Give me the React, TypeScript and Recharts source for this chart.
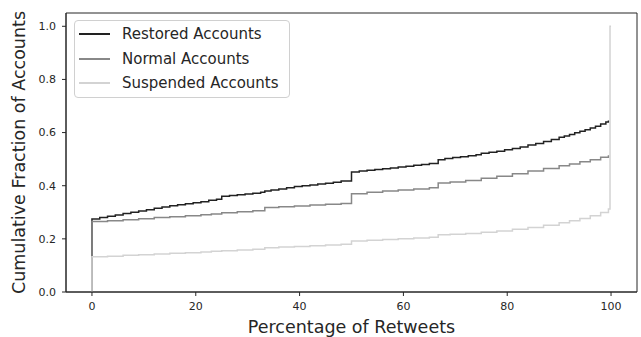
import React from 'react';
import { LineChart, Line, XAxis, YAxis, Legend, ReferenceArea } from 'recharts';

const FONT = '"DejaVu Sans", sans-serif';

const restoredX = [0, 0, 1.5, 3, 4.5, 6, 7.5, 9, 10.5, 12, 13.5, 15, 16.5, 18, 19.5, 21, 22.5, 24, 25, 26.5, 28, 29.5, 31, 32.5, 33.3, 34.5, 36, 37.5, 39, 40.5, 42, 43.5, 45, 46.5, 48, 50, 51.5, 53, 54.5, 56, 57.5, 59, 60.5, 62, 63.5, 65, 66.7, 68, 69.5, 71, 72.5, 74, 75, 76.5, 78, 79.5, 81, 82.5, 84, 85.5, 87, 88.5, 90, 91, 92, 93, 94, 95, 96, 97, 98, 99, 99.5];
const restoredValues = [0, 0.275, 0.280, 0.285, 0.290, 0.295, 0.300, 0.305, 0.310, 0.315, 0.320, 0.325, 0.328, 0.332, 0.336, 0.340, 0.345, 0.349, 0.360, 0.363, 0.366, 0.369, 0.372, 0.375, 0.380, 0.384, 0.388, 0.392, 0.397, 0.400, 0.403, 0.406, 0.409, 0.413, 0.418, 0.452, 0.455, 0.458, 0.461, 0.464, 0.467, 0.470, 0.473, 0.477, 0.480, 0.484, 0.498, 0.502, 0.506, 0.509, 0.513, 0.517, 0.522, 0.526, 0.530, 0.535, 0.540, 0.546, 0.553, 0.559, 0.566, 0.574, 0.582, 0.587, 0.593, 0.599, 0.605, 0.611, 0.617, 0.624, 0.632, 0.640, 0.645];

const normalX = [0, 0, 3, 6, 9, 12, 15, 18, 21, 23, 25, 28, 31, 33.3, 36, 39, 42, 45, 48, 50, 53, 56, 59, 62, 65, 66.7, 69, 72, 75, 78, 81, 84, 87, 90, 92, 94, 96, 98, 99.5];
const normalValues = [0, 0.265, 0.268, 0.272, 0.276, 0.280, 0.283, 0.287, 0.291, 0.294, 0.298, 0.302, 0.306, 0.318, 0.321, 0.324, 0.327, 0.330, 0.333, 0.370, 0.375, 0.380, 0.384, 0.388, 0.392, 0.410, 0.414, 0.420, 0.428, 0.436, 0.445, 0.455, 0.465, 0.475, 0.482, 0.490, 0.498, 0.507, 0.515];

const suspendedX = [0, 0, 3, 6, 9, 12, 15, 18, 21, 23, 25, 28, 31, 33.3, 36, 39, 42, 45, 48, 50, 53, 56, 59, 62, 65, 66.7, 69, 72, 75, 78, 81, 84, 87, 90, 92, 94, 96, 98, 99.5, 99.8, 100];
const suspendedValues = [0, 0.133, 0.135, 0.138, 0.140, 0.143, 0.146, 0.148, 0.151, 0.153, 0.155, 0.158, 0.161, 0.167, 0.169, 0.171, 0.174, 0.177, 0.180, 0.192, 0.195, 0.198, 0.200, 0.203, 0.206, 0.215, 0.217, 0.220, 0.225, 0.230, 0.236, 0.243, 0.251, 0.261, 0.268, 0.277, 0.287, 0.299, 0.312, 1.0, 1.0];

const xTicks = [0, 20, 40, 60, 80, 100];
const yTicks = [0, 0.2, 0.4, 0.6, 0.8, 1.0];

const seriesNames = ['Restored Accounts', 'Normal Accounts', 'Suspended Accounts'];
const seriesColors = ['#222222', '#888888', '#d3d3d3'];
const seriesXs = [restoredX, normalX, suspendedX];
const seriesValues = [restoredValues, normalValues, suspendedValues];

const seriesData = seriesValues.map((vals, s) => seriesXs[s].map((x, i) => ({ x, y: vals[i] })));

const LegendBox = () => (
  <div
    style={{
      boxSizing: 'border-box',
      width: 216,
      height: 78,
      border: '1px solid #d0d0d0',
      borderRadius: 4,
      background: 'rgba(255,255,255,0.8)',
      padding: '1px 0 0 4px',
      fontFamily: FONT,
      fontSize: 15,
      color: '#262626',
    }}
  >
    {seriesNames.map((name, i) => (
      <div key={name} style={{ display: 'flex', alignItems: 'center', height: 24.5, whiteSpace: 'nowrap' }}>
        <svg width={31} height={4} style={{ display: 'block' }}>
          <line x1={0} y1={2} x2={31} y2={2} stroke={seriesColors[i]} strokeWidth={2} />
        </svg>
        <span style={{ marginLeft: 12, lineHeight: '24.5px' }}>{name}</span>
      </div>
    ))}
  </div>
);

const YLabel = (props: any) => {
  const vb = props.viewBox || {};
  const cy = (vb.y ?? 13) + (vb.height ?? 279) / 2;
  const x = 25;
  return (
    <text
      x={x}
      y={cy}
      transform={`rotate(-90, ${x}, ${cy})`}
      textAnchor="middle"
      fontFamily={FONT}
      fontSize={17.5}
      fill="#262626"
    >
      Cumulative Fraction of Accounts
    </text>
  );
};

const XLabel = (props: any) => {
  const vb = props.viewBox || {};
  const cx = (vb.x ?? 66) + (vb.width ?? 571) / 2;
  return (
    <text x={cx} y={333} textAnchor="middle" fontFamily={FONT} fontSize={17.5} fill="#262626">
      Percentage of Retweets
    </text>
  );
};

export default function App() {
  return (
    <div style={{ position: 'absolute', left: 0, top: 0, width: 641, height: 337, background: '#fff' }}>
      <LineChart width={641} height={337} margin={{ top: 13, right: 4, left: 0, bottom: 0 }}>
        <XAxis
          dataKey="x"
          type="number"
          domain={[-5, 105]}
          ticks={xTicks}
          allowDataOverflow
          height={45}
          tickSize={4}
          tickMargin={6}
          tick={{ fontFamily: FONT, fontSize: 11, fill: '#262626' }}
          tickLine={{ stroke: '#262626' }}
          axisLine={{ stroke: '#262626' }}
          label={<XLabel />}
        />
        <YAxis
          type="number"
          domain={[0, 1.05]}
          ticks={yTicks}
          allowDataOverflow
          width={66}
          tickSize={4}
          tickMargin={6}
          tickFormatter={(v: number) => v.toFixed(1)}
          tick={{ fontFamily: FONT, fontSize: 11, fill: '#262626' }}
          tickLine={{ stroke: '#262626' }}
          axisLine={{ stroke: '#262626' }}
          label={<YLabel />}
        />
        <ReferenceArea x1={-5} x2={105} y1={0} y2={1.05} fill="none" stroke="#262626" strokeWidth={1} ifOverflow="extendDomain" />
        {seriesNames.map((name, i) => (
          <Line
            key={name}
            name={name}
            data={seriesData[i]}
            dataKey="y"
            type="stepAfter"
            stroke={seriesColors[i]}
            strokeWidth={1.5}
            dot={false}
            activeDot={false}
            isAnimationActive={false}
          />
        ))}
        <Legend
          layout="vertical"
          align="center"
          verticalAlign="middle"
          content={<LegendBox />}
          wrapperStyle={{ left: 74, top: 20, width: 216, height: 78 }}
        />
      </LineChart>
    </div>
  );
}
